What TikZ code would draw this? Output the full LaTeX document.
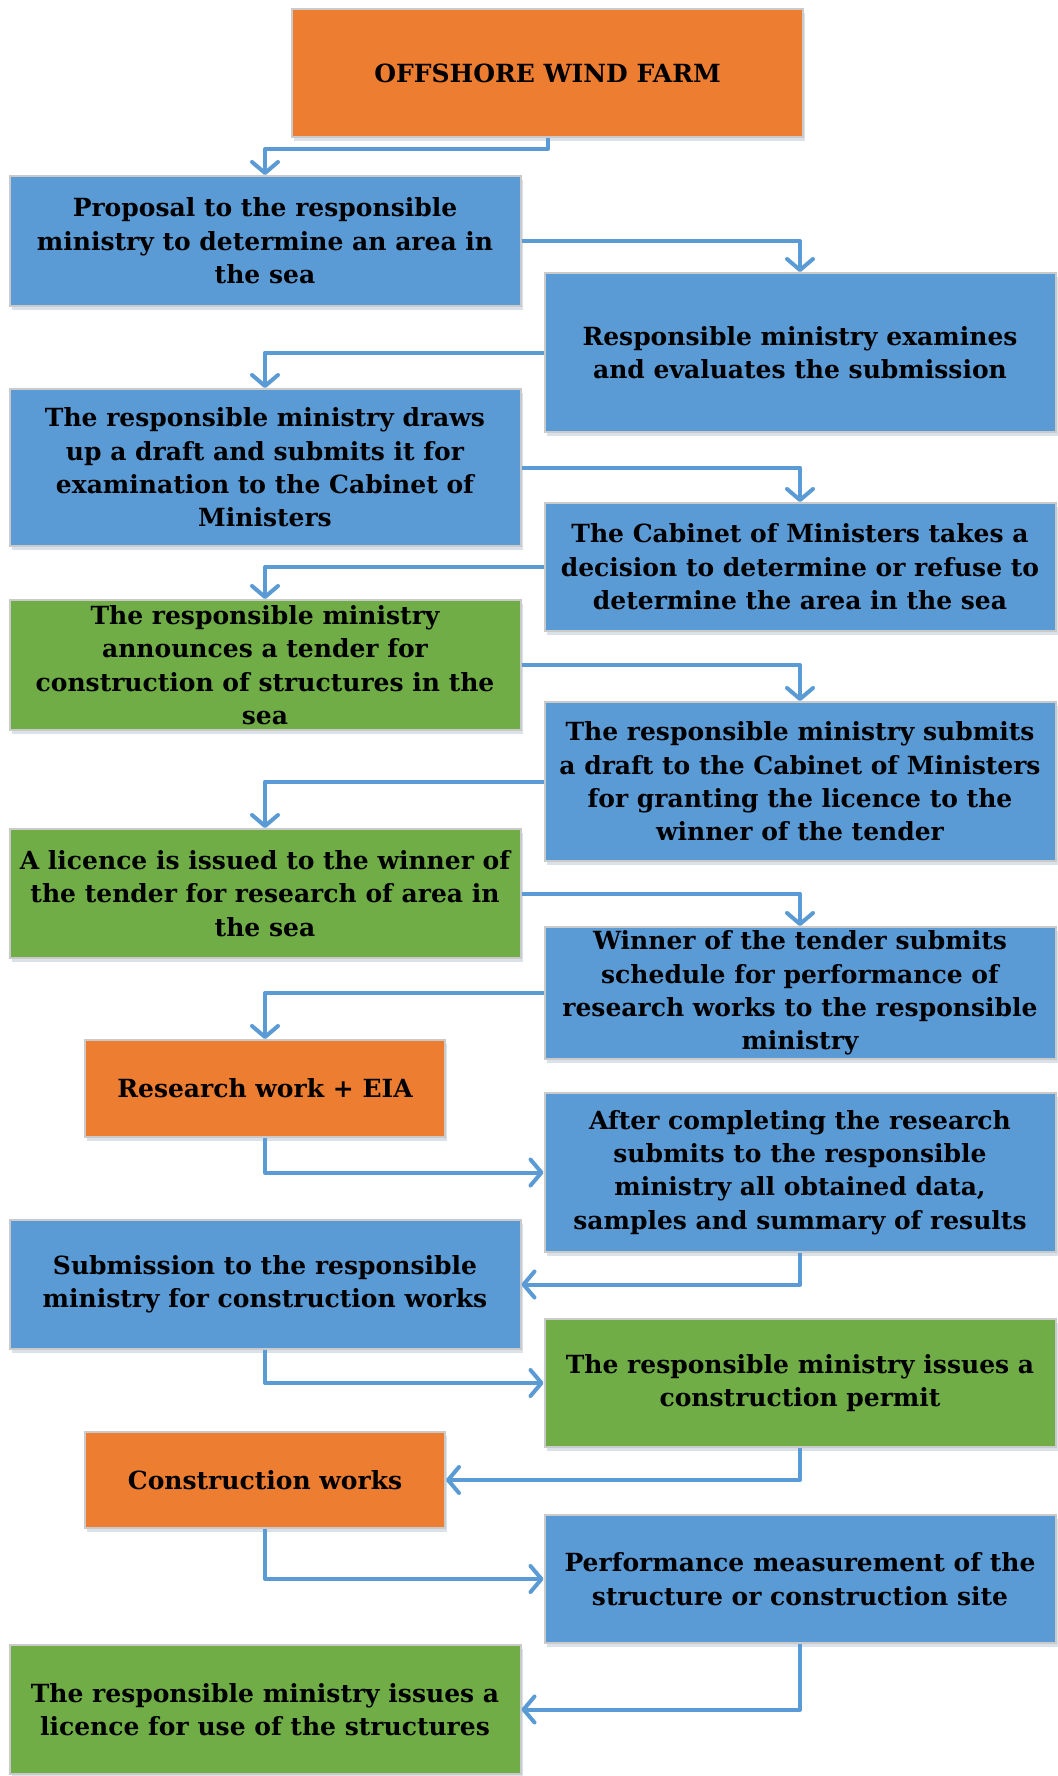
\documentclass[tikz,border=0pt]{standalone}
\usepackage{fontspec}
\setmainfont{DejaVu Serif}
\usetikzlibrary{arrows.meta,shadows}
\definecolor{boxorange}{HTML}{ED7D31}
\definecolor{boxblue}{HTML}{5B9BD5}
\definecolor{boxgreen}{HTML}{70AD47}
\definecolor{boxedge}{HTML}{CACACA}
\definecolor{linkblue}{HTML}{5B9BD5}
\begin{document}
\begin{tikzpicture}[x=1pt,y=-1pt,
  box/.style={rectangle, draw=boxedge, line width=2pt, inner sep=0pt,
    align=center, font=\bfseries\fontsize{25}{33.4}\selectfont,
    drop shadow={opacity=0.18, shadow xshift=2pt, shadow yshift=-4pt, fill=boxblue!60!black}},
  orangebox/.style={box, fill=boxorange},
  bluebox/.style={box, fill=boxblue},
  greenbox/.style={box, fill=boxgreen},
  wide/.style={minimum width=511pt},
  narrow/.style={minimum width=360pt},
  conn/.style={draw=linkblue, line width=4pt, line join=round,
    -{Straight Barb[length=11pt,width=26pt,round,line width=4pt]}}]
\useasboundingbox (0,0) rectangle (1057,1776);
\fill[white] (0,0) rectangle (1057,1776);

% left column centred at x=265, right column at x=800
\node[orangebox, wide, minimum height=128pt] (top) at (547.5,73) {OFFSHORE WIND FARM};
\node[bluebox, wide, minimum height=130pt] (b1) at (265,241)
  {Proposal to the responsible\\ministry to determine an area in\\the sea};
\node[bluebox, wide, minimum height=159pt] (b2) at (800,352.5)
  {Responsible ministry examines\\and evaluates the submission};
\node[bluebox, wide, minimum height=157pt] (b3) at (265,467.5)
  {The responsible ministry draws\\up a draft and submits it for\\examination to the Cabinet of\\Ministers};
\node[bluebox, wide, minimum height=128pt] (b4) at (800,567)
  {The Cabinet of Ministers takes a\\decision to determine or refuse to\\determine the area in the sea};
\node[greenbox, wide, minimum height=130pt] (b5) at (265,665)
  {The responsible ministry\\announces a tender for\\construction of structures in the\\sea};
\node[bluebox, wide, minimum height=159pt] (b6) at (800,781.5)
  {The responsible ministry submits\\a draft to the Cabinet of Ministers\\for granting the licence to the\\winner of the tender};
\node[greenbox, wide, minimum height=129pt] (b7) at (265,893.5)
  {A licence is issued to the winner of\\the tender for research of area in\\the sea};
\node[bluebox, wide, minimum height=132pt] (b8) at (800,993)
  {Winner of the tender submits\\schedule for performance of\\research works to the responsible\\ministry};
\node[orangebox, narrow, minimum height=97pt] (b9) at (265,1088.5)
  {Research work + EIA};
\node[bluebox, wide, minimum height=159pt] (b10) at (800,1172.5)
  {After completing the research\\submits to the responsible\\ministry all obtained data,\\samples and summary of results};
\node[bluebox, wide, minimum height=129pt] (b11) at (265,1284.5)
  {Submission to the responsible\\ministry for construction works};
\node[greenbox, wide, minimum height=128pt] (b12) at (800,1383)
  {The responsible ministry issues a\\construction permit};
\node[orangebox, narrow, minimum height=96pt] (b13) at (265,1480)
  {Construction works};
\node[bluebox, wide, minimum height=128pt] (b14) at (800,1579)
  {Performance measurement of the\\structure or construction site};
\node[greenbox, wide, minimum height=129pt] (b15) at (265,1709.5)
  {The responsible ministry issues a\\licence for use of the structures};

% connectors
\draw[conn] (top.south) -- ++(0,11) -| (b1.north);
\draw[conn] (b1.east) -| (b2.north);
\draw[conn] (b2.west) -| (b3.north);
\draw[conn] (b3.east) -| (b4.north);
\draw[conn] (b4.west) -| (b5.north);
\draw[conn] (b5.east) -| (b6.north);
\draw[conn] (b6.west) -| (b7.north);
\draw[conn] (b7.east) -| (b8.north);
\draw[conn] (b8.west) -| (b9.north);
\draw[conn] (b9.south) |- (b10.west);
\draw[conn] (b10.south) |- (b11.east);
\draw[conn] (b11.south) |- (b12.west);
\draw[conn] (b12.south) |- (b13.east);
\draw[conn] (b13.south) |- (b14.west);
\draw[conn] (b14.south) |- (b15.east);
\end{tikzpicture}
\end{document}
